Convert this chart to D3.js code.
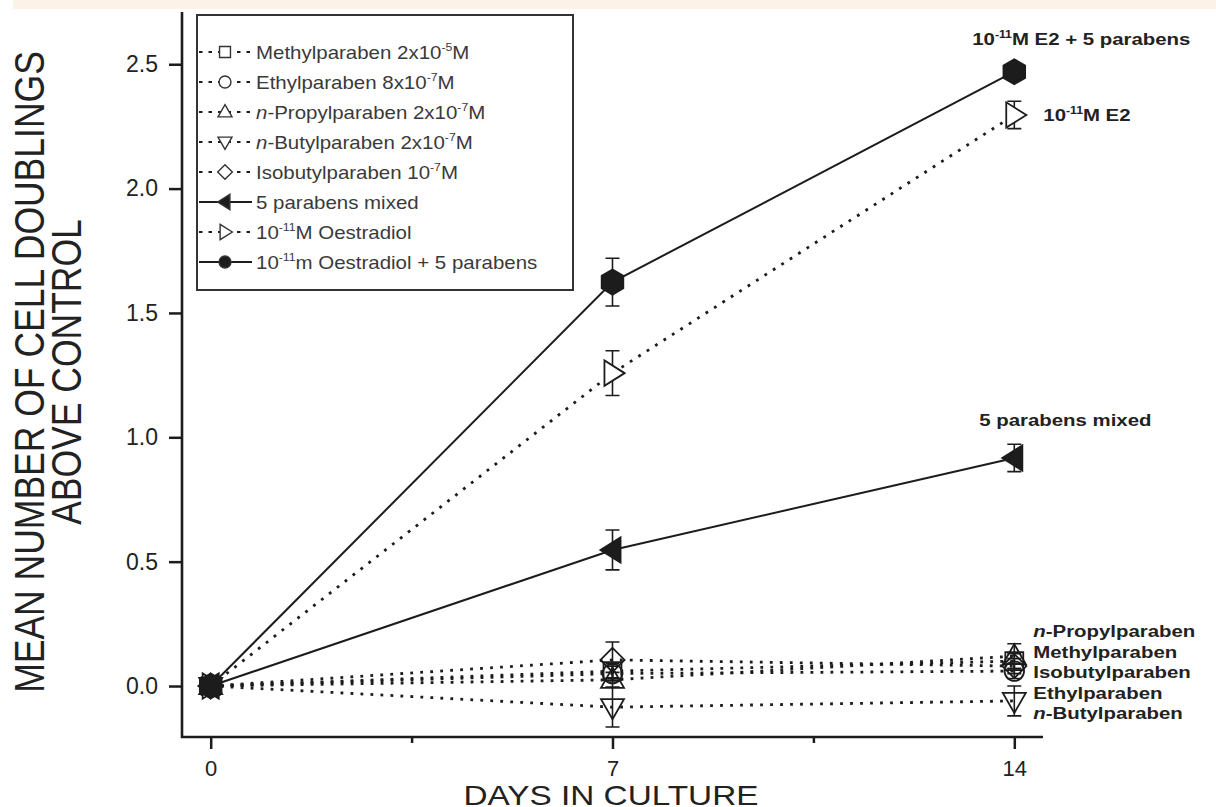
<!DOCTYPE html>
<html lang="en">
<head>
<meta charset="UTF-8">
<title>Cell doublings above control</title>
<style>
  body { margin: 0; background: #fff; }
  svg { display: block; }
  text { font-family: "Liberation Sans", Arial, sans-serif; }
</style>
</head>
<body>
<svg id="chart" width="1216" height="807"></svg>
<script src="https://d3js.org/d3.v7.min.js"></script>
<script>
// x values (days in culture) and ticks
const days = [0, 7, 14];
const xTicks = [0, 7, 14];
const xMinorTicks = [3.5, 10.5];
const yTicks = [0, 0.5, 1.0, 1.5, 2.0, 2.5];

// mean cell doublings above control, one value per day
const methyl   = [0, 0.06, 0.10];
const ethyl    = [0, 0.05, 0.06];
const propyl   = [0, 0.025, 0.12];
const butyl    = [0, -0.085, -0.06];
const isobutyl = [0, 0.105, 0.08];
const mixed    = [0, 0.547, 0.917];
const e2       = [0, 1.258, 2.296];
const e2Mixed  = [0, 1.624, 2.47];

// +/- error
const methylErr   = [0, 0.03, 0.03];
const ethylErr    = [0, 0.03, 0.03];
const propylErr   = [0, 0.03, 0.05];
const butylErr    = [0, 0.08, 0.06];
const isobutylErr = [0, 0.072, 0.03];
const mixedErr    = [0, 0.08, 0.055];
const e2Err       = [0, 0.09, 0.055];
const e2MixedErr  = [0, 0.096, 0.03];

// legend text (^{..} = superscript, *..* = italic)
const legendLabels = [
  "Methylparaben 2x10^{-5}M",
  "Ethylparaben 8x10^{-7}M",
  "*n*-Propylparaben 2x10^{-7}M",
  "*n*-Butylparaben 2x10^{-7}M",
  "Isobutylparaben 10^{-7}M",
  "5 parabens mixed",
  "10^{-11}M Oestradiol",
  "10^{-11}m Oestradiol + 5 parabens"
];
const shapes = ["square", "circle", "up", "down", "diamond", "left", "right", "hexagon"];
const legendShapes = ["square", "circle", "up", "down", "diamond", "left", "right", "circle"];
const filled = [false, false, false, false, false, true, false, true];
const dotted = [true, true, true, true, true, false, true, false];
const means = [methyl, ethyl, propyl, butyl, isobutyl, mixed, e2, e2Mixed];
const errs = [methylErr, ethylErr, propylErr, butylErr, isobutylErr, mixedErr, e2Err, e2MixedErr];

// labels written beside the day 14 points (top to bottom)
const parabenEndLabels = ["*n*-Propylparaben", "Methylparaben", "Isobutylparaben", "Ethylparaben", "*n*-Butylparaben"];

const svg = d3.select("#chart");
const ink = "#1c1c1c";

// faint band at the top of the scan
svg.append("rect").attr("x", 13).attr("y", 0).attr("width", 1203).attr("height", 9).attr("fill", "#fcf2e8");

const x = d3.scaleLinear().domain([-0.5, 14.5]).range([182, 1043]);
const y = d3.scaleLinear().domain([-0.205, 2.71]).range([737, 12]);

// marker paths
function shapePath(type, r) {
  const p = d3.path();
  const poly = pts => { pts.forEach((q, i) => i ? p.lineTo(q[0], q[1]) : p.moveTo(q[0], q[1])); p.closePath(); };
  if (type === "circle") { p.arc(0, 0, r * 0.85, 0, 2 * Math.PI); }
  else if (type === "square") { const s = r * 0.78; poly([[-s, -s], [s, -s], [s, s], [-s, s]]); }
  else if (type === "up") poly([[0, -r * 1.05], [r, r * 0.7], [-r, r * 0.7]]);
  else if (type === "down") poly([[0, r * 1.05], [r, -r * 0.7], [-r, -r * 0.7]]);
  else if (type === "left") poly([[-r * 1.05, 0], [r * 0.7, -r * 1.1], [r * 0.7, r * 1.1]]);
  else if (type === "right") poly([[r * 1.05, 0], [-r * 0.7, -r * 1.1], [-r * 0.7, r * 1.1]]);
  else if (type === "diamond") poly([[0, -r * 1.05], [r * 1.05, 0], [0, r * 1.05], [-r * 1.05, 0]]);
  else if (type === "hexagon") {
    const pts = d3.range(6).map(i => { const a = Math.PI / 3 * i - Math.PI / 2; return [r * Math.cos(a), r * Math.sin(a)]; });
    poly(pts);
  }
  return p.toString();
}

// text with superscripts / italics, optionally stretched sideways
function richText(parent, str, x0, y0, size, opts = {}) {
  const g = parent.append("g").attr("transform", `translate(${x0},${y0}) scale(${opts.sx || 1},1)` + (opts.rotate ? ` rotate(${opts.rotate})` : ""));
  const t = g.append("text").attr("font-size", size)
    .attr("fill", opts.fill || ink)
    .attr("font-weight", opts.bold ? "bold" : null)
    .attr("text-anchor", opts.anchor || "start");
  let shift = 0;
  str.split(/(\^\{[^}]*\}|\*[^*]*\*)/).filter(s => s.length).forEach(s => {
    let txt = s, sup = false, it = false;
    if (s.startsWith("^{")) { txt = s.slice(2, -1); sup = true; }
    else if (s.startsWith("*")) { txt = s.slice(1, -1); it = true; }
    const ts = t.append("tspan").text(txt);
    const target = sup ? -size * 0.42 : 0;
    if (target !== shift) { ts.attr("dy", target - shift); shift = target; }
    if (sup) ts.attr("font-size", size * 0.6);
    if (it) ts.attr("font-style", "italic");
  });
  return t;
}

// axes
const yAxis = svg.append("g").attr("transform", "translate(182,0)")
  .call(d3.axisLeft(y).tickValues(yTicks).tickSize(13).tickPadding(11).tickFormat(d3.format(".1f")));
const xAxis = svg.append("g").attr("transform", "translate(0,737)")
  .call(d3.axisBottom(x).tickValues(xTicks).tickSize(12).tickPadding(11));
const xMinor = svg.append("g").attr("transform", "translate(0,737)")
  .call(d3.axisBottom(x).tickValues(xMinorTicks).tickSize(6).tickFormat(""));
[yAxis, xAxis, xMinor].forEach(a => {
  a.select(".domain").remove();
  a.selectAll(".tick line").attr("stroke", ink).attr("stroke-width", 2.5);
  a.selectAll("text").attr("fill", "#222").attr("font-size", 23)
    .attr("font-family", "'Liberation Sans', Arial, sans-serif");
});
xAxis.selectAll("text").attr("font-size", 22);
svg.append("path").attr("d", `M182,12V737H1043`).attr("fill", "none").attr("stroke", ink).attr("stroke-width", 2.6);

// axis titles
richText(svg, "MEAN NUMBER OF CELL DOUBLINGS", 44, 372, 35.5, { sx: 1.2, rotate: -90, anchor: "middle", fill: "#222" });
richText(svg, "ABOVE CONTROL", 81, 372, 35.5, { sx: 1.2, rotate: -90, anchor: "middle", fill: "#222" });
richText(svg, "DAYS IN CULTURE", 611, 805, 28, { sx: 1.19, anchor: "middle", fill: "#222" });

// series lines
const line = d3.line().x((d, i) => x(days[i])).y(d => y(d));
const order = [0, 1, 2, 3, 4, 6, 5, 7];
order.forEach(k => {
  svg.append("path").datum(means[k]).attr("d", line)
    .attr("fill", "none").attr("stroke", ink)
    .attr("stroke-width", dotted[k] ? 2.8 : 2)
    .attr("stroke-dasharray", dotted[k] ? "2.8,7.2" : null);
});

// error bars
order.forEach(k => {
  const g = svg.append("g");
  means[k].forEach((m, i) => {
    const e = errs[k][i];
    if (!e) return;
    const cx = x(days[i]);
    g.append("path")
      .attr("d", `M${cx},${y(m - e)}V${y(m + e)}M${cx - 7},${y(m + e)}H${cx + 7}M${cx - 7},${y(m - e)}H${cx + 7}`)
      .attr("fill", "none").attr("stroke", ink).attr("stroke-width", 1.6);
  });
});

// markers
order.forEach(k => {
  svg.append("g").selectAll("path").data(means[k]).join("path")
    .attr("transform", (d, i) => `translate(${x(days[i])},${y(d)})`)
    .attr("d", shapePath(shapes[k], k === 7 ? 12.5 : 11.5))
    .attr("fill", filled[k] ? ink : (k === 6 ? "#fff" : "none"))
    .attr("stroke", ink).attr("stroke-width", 1.8);
});

// legend
const legend = svg.append("g");
legend.append("rect").attr("x", 197).attr("y", 15).attr("width", 376).attr("height", 275)
  .attr("fill", "#fff").attr("stroke", "#333").attr("stroke-width", 2);
legendLabels.forEach((lab, k) => {
  const cy = 52 + 30 * k;
  legend.append("line").attr("x1", 199).attr("x2", 252).attr("y1", cy).attr("y2", cy)
    .attr("stroke", ink).attr("stroke-width", dotted[k] ? 1.8 : 2)
    .attr("stroke-dasharray", dotted[k] ? "3.5,6" : null);
  legend.append("path").attr("transform", `translate(225,${cy})`)
    .attr("d", shapePath(legendShapes[k], 7))
    .attr("fill", filled[k] ? ink : "#fff").attr("stroke", "#333").attr("stroke-width", 1.4);
  richText(legend, lab, 256, cy + 6.5, 17.5, { sx: 1.17, fill: "#3a3a3a" });
});

// end labels
const bold = { bold: true, sx: 1.2, fill: "#222" };
richText(svg, "10^{-11}M E2 + 5 parabens", x(14) + 67, y(e2Mixed[2]) - 27, 17, Object.assign({ anchor: "middle" }, bold));
richText(svg, "10^{-11}M E2", x(14) + 29, y(e2[2]) + 6, 17, bold);
richText(svg, "5 parabens mixed", x(14) + 51, y(mixed[2]) - 32, 17, Object.assign({ anchor: "middle" }, bold));
parabenEndLabels.forEach((lab, i) => {
  richText(svg, lab, x(14) + 19, y(propyl[2]) - 19 + 20.5 * i, 17, bold);
});
</script>
</body>
</html>
